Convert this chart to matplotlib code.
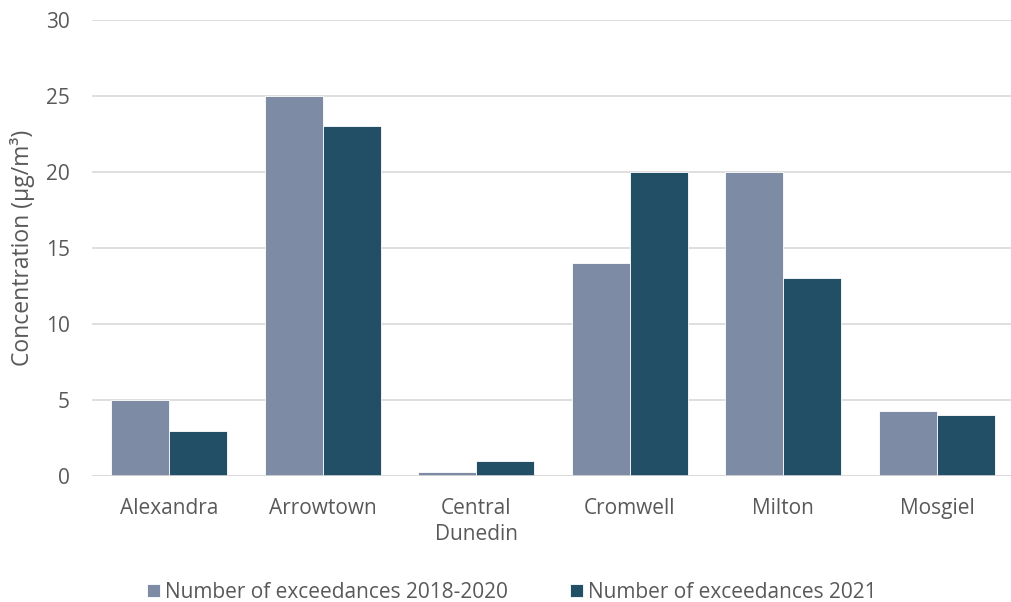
import matplotlib
matplotlib.use("Agg")
import matplotlib.pyplot as plt
import numpy as np

# Exceedance counts per monitoring site
sites = ["Alexandra", "Arrowtown", "Central\nDunedin", "Cromwell", "Milton", "Mosgiel"]
exceed_2018_2020 = [5, 25, 0.25, 14, 20, 4.3]
exceed_2021 = [3, 23, 1, 20, 13, 4]
yticks = [0, 5, 10, 15, 20, 25, 30]

plt.rcParams["font.family"] = ["Open Sans", "DejaVu Sans"]
text_col = "#595959"

fig = plt.figure(figsize=(10.11, 6.02), dpi=100)
ax = fig.add_axes([0.0912, 0.209, 0.9116, 0.758])

x = np.arange(len(sites))
w = 0.378
ax.bar(x - w / 2, exceed_2018_2020, width=w, color="#7D8BA5", edgecolor="white",
       linewidth=0.6, label="Number of exceedances 2018-2020", zorder=3)
ax.bar(x + w / 2, exceed_2021, width=w, color="#234F66", edgecolor="white",
       linewidth=0.6, label="Number of exceedances 2021", zorder=3)

ax.set_xlim(-0.5, len(sites) - 0.5)
ax.set_ylim(0, 30)
ax.set_yticks(yticks)
ax.set_xticks(x)
ax.set_xticklabels(sites, fontsize=15, color=text_col, linespacing=1.3)
ax.tick_params(axis="y", labelsize=15, labelcolor=text_col, length=0, pad=16)
ax.tick_params(axis="x", length=0, pad=16)
ax.grid(axis="y", color="#D9D9D9", linewidth=1.2, zorder=0)
for s in ax.spines.values():
    s.set_visible(False)
ax.axhline(0, color="#D9D9D9", linewidth=1.2, zorder=4)

ax.set_ylabel("Concentration (µg/m³)", fontsize=16.5, color=text_col, labelpad=8)

ax.legend(loc="lower center", bbox_to_anchor=(0.4555, -0.318), ncol=2, frameon=False,
          fontsize=15, labelcolor=text_col, handlelength=0.6, handleheight=0.6,
          handletextpad=0.25, columnspacing=3.0)

fig.savefig("out.png", dpi=100)
